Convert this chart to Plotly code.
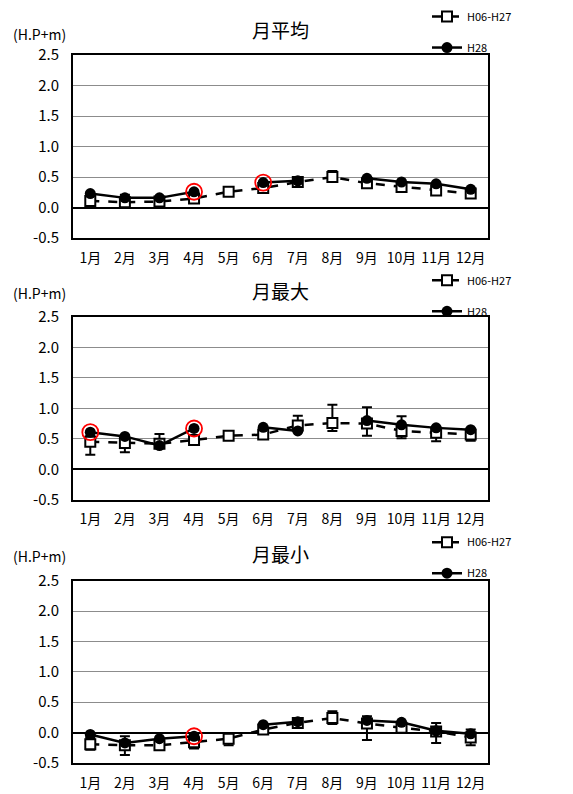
import plotly.graph_objects as go

# ---------------- data ----------------
months = ["1月", "2月", "3月", "4月", "5月", "6月", "7月", "8月", "9月", "10月", "11月", "12月"]
panel_titles = ["月平均", "月最大", "月最小"]
series_names = ["H06-H27", "H28"]
unit_label = "(H.P+m)"
ytick_vals = [-0.5, 0.0, 0.5, 1.0, 1.5, 2.0, 2.5]
ytick_text = ["-0.5", "0.0", "0.5", "1.0", "1.5", "2.0", "2.5"]

# 月平均
avg_past = [0.11, 0.09, 0.10, 0.15, 0.26, 0.32, 0.42, 0.50, 0.40, 0.34, 0.28, 0.23]
avg_past_up = [0.05, 0.12, 0.07, 0.05, 0.08, 0.05, 0.06, 0.10, 0.08, 0.07, 0.05, 0.06]
avg_past_dn = [0.05, 0.04, 0.04, 0.04, 0.05, 0.05, 0.05, 0.06, 0.07, 0.06, 0.05, 0.05]
avg_h28 = [0.23, 0.16, 0.16, 0.26, None, 0.41, 0.44, None, 0.48, 0.42, 0.39, 0.30]
avg_marked = ["4月", "6月"]

# 月最大
max_past = [0.45, 0.43, 0.42, 0.48, 0.55, 0.57, 0.72, 0.76, 0.75, 0.63, 0.60, 0.57]
max_past_up = [0.10, 0.08, 0.16, 0.05, 0.05, 0.05, 0.16, 0.30, 0.27, 0.24, 0.08, 0.10]
max_past_dn = [0.21, 0.15, 0.04, 0.04, 0.04, 0.07, 0.10, 0.13, 0.20, 0.12, 0.14, 0.10]
max_h28 = [0.61, 0.54, 0.39, 0.67, None, 0.69, 0.63, None, 0.80, 0.73, 0.68, 0.65]
max_marked = ["1月", "4月"]

# 月最小
min_past = [-0.19, -0.21, -0.21, -0.16, -0.10, 0.05, 0.16, 0.24, 0.15, 0.08, 0.02, -0.08]
min_past_up = [0.10, 0.15, 0.08, 0.05, 0.05, 0.05, 0.05, 0.11, 0.12, 0.06, 0.14, 0.13]
min_past_dn = [0.09, 0.16, 0.07, 0.10, 0.11, 0.06, 0.05, 0.10, 0.27, 0.05, 0.19, 0.13]
min_h28 = [-0.03, -0.17, -0.10, -0.06, None, 0.13, 0.18, None, 0.20, 0.17, 0.03, -0.02]
min_marked = ["4月"]

panels = [
    (avg_past, avg_past_up, avg_past_dn, avg_h28, avg_marked),
    (max_past, max_past_up, max_past_dn, max_h28, max_marked),
    (min_past, min_past_up, min_past_dn, min_h28, min_marked),
]

# ---------------- layout helpers ----------------
OFF = 8  # page body margin of the HTML document
WIN_W, WIN_H = 573, 794
W, H = WIN_W - OFF, WIN_H - OFF
# target positions below are window pixel coordinates
PLOT_L, PLOT_R = 73, 488
plot_tops = [55, 317.3, 581]
plot_bots = [238.3, 500, 763.5]
title_y = [29, 291, 554]
unit_y = [34, 293, 556]
legend_top = [2, 266, 528]

ML = PLOT_L - OFF
MR = WIN_W - PLOT_R
MT = plot_tops[0] - OFF
MB = WIN_H - plot_bots[2]
PH = H - MT - MB
PW = W - ML - MR


def py(ypx):
    return (H - MB - (ypx - OFF)) / PH


def px(xpx):
    return (xpx - OFF - ML) / PW


FONT = "Noto Sans CJK JP"

fig = go.Figure()
annotations = []
layout_axes = {}

for i, (past, up, dn, h28, marked) in enumerate(panels):
    n = i + 1
    xa = "x" if n == 1 else f"x{n}"
    ya = "y" if n == 1 else f"y{n}"
    leg = "legend" if n == 1 else f"legend{n}"

    fig.add_trace(go.Scatter(
        x=months, y=past, xaxis=xa, yaxis=ya, name=series_names[0],
        mode="lines+markers",
        line=dict(color="black", width=2.5, dash="dash"),
        marker=dict(symbol="square", size=10, color="white",
                    line=dict(color="black", width=2)),
        error_y=dict(type="data", symmetric=False, array=up, arrayminus=dn,
                     color="black", thickness=2, width=5),
        legend=leg, legendgroup=f"p{n}a",
    ))
    fig.add_trace(go.Scatter(
        x=months, y=h28, xaxis=xa, yaxis=ya, name=series_names[1],
        mode="lines+markers", connectgaps=False,
        line=dict(color="black", width=2.5),
        marker=dict(symbol="circle", size=11, color="black"),
        legend=leg, legendgroup=f"p{n}b",
    ))
    mk_y = [h28[months.index(m)] for m in marked]
    fig.add_trace(go.Scatter(
        x=marked, y=mk_y, xaxis=xa, yaxis=ya, mode="markers",
        marker=dict(symbol="circle-open", size=16, color="red",
                    line=dict(color="red", width=1.8)),
        showlegend=False, hoverinfo="skip",
    ))

    dom = [py(plot_bots[i]), py(plot_tops[i])]
    xkey = "xaxis" if n == 1 else f"xaxis{n}"
    ykey = "yaxis" if n == 1 else f"yaxis{n}"
    layout_axes[xkey] = dict(
        domain=[0, 1], anchor=ya, type="category",
        categoryorder="array", categoryarray=months,
        range=[-0.5, len(months) - 0.5],
        showline=True, linecolor="black", linewidth=2, mirror=True,
        showgrid=False, ticks="", tickangle=0,
        tickfont=dict(family=FONT, size=14, color="black"),
        ticklabelstandoff=6,
    )
    layout_axes[ykey] = dict(
        domain=dom, anchor=xa, range=[-0.5, 2.5],
        tickvals=ytick_vals, ticktext=ytick_text,
        showline=True, linecolor="black", linewidth=2, mirror=True,
        showgrid=True, gridcolor="#8c8c8c", gridwidth=1,
        zeroline=True, zerolinecolor="black", zerolinewidth=1.5,
        ticks="", tickfont=dict(family=FONT, size=15, color="black"),
        ticklabelstandoff=9,
    )
    layout_axes[leg] = dict(
        x=px(427), xanchor="left", y=py(legend_top[i]), yanchor="top",
        bgcolor="rgba(0,0,0,0)", borderwidth=0,
        font=dict(family=FONT, size=11, color="black"),
        tracegroupgap=12, itemwidth=30,
    )
    annotations.append(dict(
        text=panel_titles[i], xref="paper", yref="paper",
        x=0.5, y=py(title_y[i]), xanchor="center", yanchor="middle",
        showarrow=False, font=dict(family=FONT, size=19, color="black"),
    ))
    annotations.append(dict(
        text=unit_label, xref="paper", yref="paper",
        x=px(11), y=py(unit_y[i]), xanchor="left", yanchor="middle",
        showarrow=False, font=dict(family=FONT, size=14, color="black"),
    ))

fig.update_layout(
    width=W, height=H,
    margin=dict(l=ML, r=MR, t=MT, b=MB, autoexpand=False),
    paper_bgcolor="white", plot_bgcolor="white",
    annotations=annotations,
    showlegend=True,
    **layout_axes,
)

fig.write_html("out.html")
